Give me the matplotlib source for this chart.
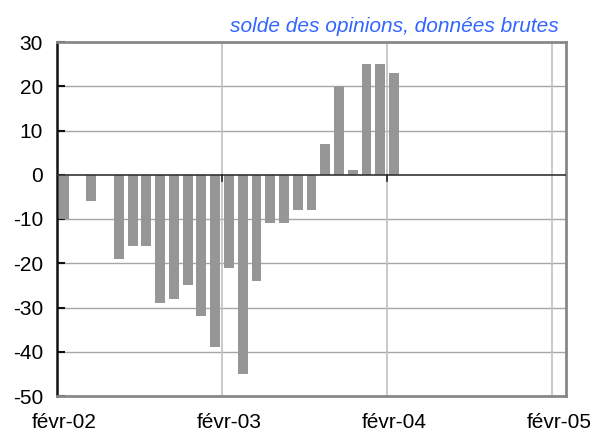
import matplotlib
matplotlib.use("Agg")
import matplotlib.pyplot as plt
import numpy as np

plt.rcParams['font.family'] = ['Liberation Sans', 'DejaVu Sans']

# Month index counted from févr-02 (0 = févr-02)
months = [0, 2] + list(range(4, 25))
values = [-10, -6,
          -19, -16, -16, -29, -28, -25, -32, -39,
          -21, -45, -24, -11, -11, -8, -8, 7, 20, 1, 25, 25, 23]
tick_labels = ["févr-02", "févr-03", "févr-04", "févr-05"]
tick_months = [0, 12, 24, 36]
yticks = [30, 20, 10, 0, -10, -20, -30, -40, -50]
title = "solde des opinions, données brutes"

fig = plt.figure(figsize=(5.92, 4.34), dpi=100)
ax = fig.add_axes([57/592, 1-396/434, (566-57)/592, (396-42)/434])

ax.set_xlim(0, 37)
ax.set_ylim(-50, 30)

# gridlines
for y in yticks:
    if y not in (0, 30, -50):
        ax.axhline(y, color='#a6a6a6', lw=1.0, zorder=0)
for m in tick_months[1:]:
    ax.axvline(m, color='#c0c0c0', lw=1.2, zorder=0)

ax.bar(np.array(months) + 0.5, values, width=0.72, color='#969696', zorder=2)

# zero axis line with ticks
ax.axhline(0, color='#333333', lw=1.2, zorder=3)
for m in tick_months[1:3]:
    ax.plot([m, m], [0, -1.3], color='#222222', lw=1.2, zorder=3)

for side in ['top', 'right', 'bottom']:
    ax.spines[side].set_color('#888888')
    ax.spines[side].set_linewidth(2)
ax.spines['left'].set_color('#111111')
ax.spines['left'].set_linewidth(1.8)

ax.set_yticks(yticks)
ax.set_yticklabels([str(v) for v in yticks], fontsize=15)
ax.tick_params(axis='y', direction='in', length=6, width=1.5, color='#111111', pad=10)

ax.set_xticks([m + 0.5 for m in tick_months])
ax.set_xticklabels(tick_labels, fontsize=15)
ax.tick_params(axis='x', length=0, pad=12)

fig.text(559/592, 1-27/434, title, color='#3366ff', style='italic',
         fontsize=15, ha='right', va='center')

fig.savefig("out.png", dpi=100)
